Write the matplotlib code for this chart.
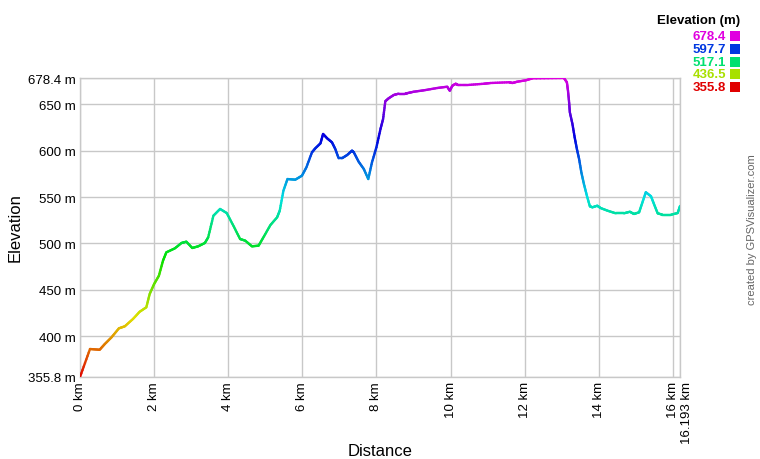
import matplotlib
matplotlib.use("Agg")
import matplotlib.pyplot as plt
import matplotlib.transforms as mtransforms
from matplotlib.collections import LineCollection
from matplotlib.patches import Rectangle
import colorsys
import numpy as np

plt.rcParams['font.family'] = ['Liberation Sans', 'DejaVu Sans']

# ---- data ----
distance_km = [0.0, 0.27, 0.53, 0.67, 0.85, 1.05, 1.21, 1.43, 1.61, 1.79, 1.88, 2.0, 2.13, 2.24, 2.33,
               2.56, 2.74, 2.87, 3.03, 3.19, 3.37, 3.46, 3.60, 3.78, 3.96, 4.14, 4.32, 4.46, 4.64,
               4.82, 4.95, 5.14, 5.32, 5.39, 5.49, 5.60, 5.81, 5.99, 6.11, 6.26, 6.35, 6.49, 6.56,
               6.67, 6.80, 6.89, 6.98, 7.07, 7.21, 7.34, 7.39, 7.52, 7.66, 7.78, 7.88, 8.0, 8.11,
               8.18, 8.24, 8.33, 8.47, 8.60, 8.78, 8.85, 9.01, 9.28, 9.64, 9.91, 9.98, 10.05, 10.14,
               10.20, 10.45, 10.90, 11.08, 11.58, 11.67, 11.80, 12.03, 12.21, 13.06, 13.14, 13.17,
               13.20, 13.22, 13.29, 13.35, 13.41, 13.47, 13.53, 13.60, 13.68, 13.76, 13.83, 13.96,
               14.05, 14.24, 14.46, 14.68, 14.84, 14.95, 15.09, 15.18, 15.27, 15.41, 15.49, 15.59,
               15.72, 15.95, 16.13, 16.193]
elevation_m = [355.8, 386.0, 385.2, 391.4, 398.6, 408.3, 410.5, 418.4, 426.2, 431.0, 445.3, 456.1, 465.1,
               481.3, 490.3, 494.6, 500.4, 501.8, 495.0, 496.8, 500.4, 506.5, 529.8, 537.1, 532.7,
               519.0, 504.7, 502.9, 496.8, 497.5, 506.5, 519.8, 528.1, 535.2, 556.8, 569.4, 568.7,
               573.0, 582.0, 598.2, 602.5, 607.9, 618.0, 613.3, 609.0, 601.8, 591.8, 591.8, 595.3,
               600.0, 598.2, 588.1, 580.2, 569.4, 587.4, 603.6, 623.4, 634.2, 653.3, 656.5, 660.1,
               661.5, 661.5, 662.2, 663.6, 665.1, 667.6, 669.0, 664.7, 670.1, 672.2, 670.8, 670.8,
               672.2, 673.0, 673.8, 673.0, 674.4, 675.9, 678.0, 678.4, 673.8, 664.7, 652.2, 641.4,
               628.8, 614.4, 601.8, 591.0, 576.7, 564.0, 551.4, 540.0, 538.9, 540.6, 538.1, 535.2,
               532.4, 532.4, 534.1, 531.7, 533.5, 544.3, 555.1, 550.8, 542.5, 532.4, 530.9, 530.9,
               532.7, 540.3]

x_ticks = [0, 2, 4, 6, 8, 10, 12, 14, 16]
x_tick_labels = ["0 km", "2 km", "4 km", "6 km", "8 km", "10 km", "12 km", "14 km", "16 km"]
x_end = 16.193
x_end_label = "16.193 km"
y_ticks = [355.8, 400, 450, 500, 550, 600, 650, 678.4]
y_tick_labels = ["355.8 m", "400 m", "450 m", "500 m", "550 m", "600 m", "650 m", "678.4 m"]
legend_values = ["678.4", "597.7", "517.1", "436.5", "355.8"]

ymin, ymax = 355.8, 678.4


def elev_color(e):
    f = (e - ymin) / (ymax - ymin)
    f = min(max(f, 0), 1)
    return colorsys.hsv_to_rgb(f * 300 / 360, 1.0, 0.88)


W, H = 760, 460
fig = plt.figure(figsize=(W / 100, H / 100), dpi=100)
ax = fig.add_axes([80 / W, 82 / H, 600 / W, 299 / H])

# each straight segment is drawn in a few pieces so its colour follows the elevation gradient
x = np.array(distance_km)
y = np.array(elevation_m)
segs, cols = [], []
for i in range(len(x) - 1):
    n = 8
    t = np.linspace(0, 1, n + 1)
    xs = x[i] + (x[i + 1] - x[i]) * t
    ys = y[i] + (y[i + 1] - y[i]) * t
    for k in range(n):
        segs.append([(xs[k], ys[k]), (xs[k + 1], ys[k + 1])])
        cols.append(elev_color((ys[k] + ys[k + 1]) / 2))
lc = LineCollection(segs, colors=cols, linewidths=1.7, capstyle='round', joinstyle='round', zorder=3)
ax.add_collection(lc)

ax.set_xlim(0, x_end)
ax.set_ylim(ymin, ymax)

grid_c = '#c8c8c8'
ax.set_yticks(y_ticks)
ax.set_yticklabels(y_tick_labels)
ax.set_xticks(x_ticks + [x_end])
ax.set_xticklabels(x_tick_labels + [x_end_label], rotation=90, va='top', ha='center')
ax.tick_params(axis='both', length=0, labelsize=9.5, colors='black', pad=3)
ax.grid(True, color=grid_c, linewidth=1)
ax.set_axisbelow(True)
for s in ax.spines.values():
    s.set_color(grid_c)
    s.set_linewidth(1)

# shift the final distance label slightly right
lbls = ax.get_xticklabels()
off = mtransforms.ScaledTranslation(7 / 100, 0, fig.dpi_scale_trans)
lbls[-1].set_transform(lbls[-1].get_transform() + off)

fig.text(15 / W, 1 - 228 / H, "Elevation", rotation=90, ha='center', va='center', fontsize=12)
fig.text(380 / W, 1 - 452 / H, "Distance", ha='center', va='center', fontsize=12)

# legend
fig.text(740 / W, 1 - 21 / H, "Elevation (m)", ha='right', va='center', fontsize=9.5, fontweight='bold')
leg_colors = [elev_color(float(v)) for v in legend_values]
for i, (v, c) in enumerate(zip(legend_values, leg_colors)):
    yc = 37 + i * 12.8
    fig.text(726 / W, 1 - yc / H, v, ha='right', va='center', fontsize=9.5, fontweight='bold', color=c)
    fig.patches.append(Rectangle((730 / W, 1 - (yc + 5) / H), 10 / W, 10 / H,
                                 transform=fig.transFigure, facecolor=c, edgecolor='none'))

fig.text(752 / W, 1 - 230 / H, "created by GPSVisualizer.com", rotation=90, ha='center', va='center',
         fontsize=8, color='#666666')

fig.savefig("out.png", dpi=100)
